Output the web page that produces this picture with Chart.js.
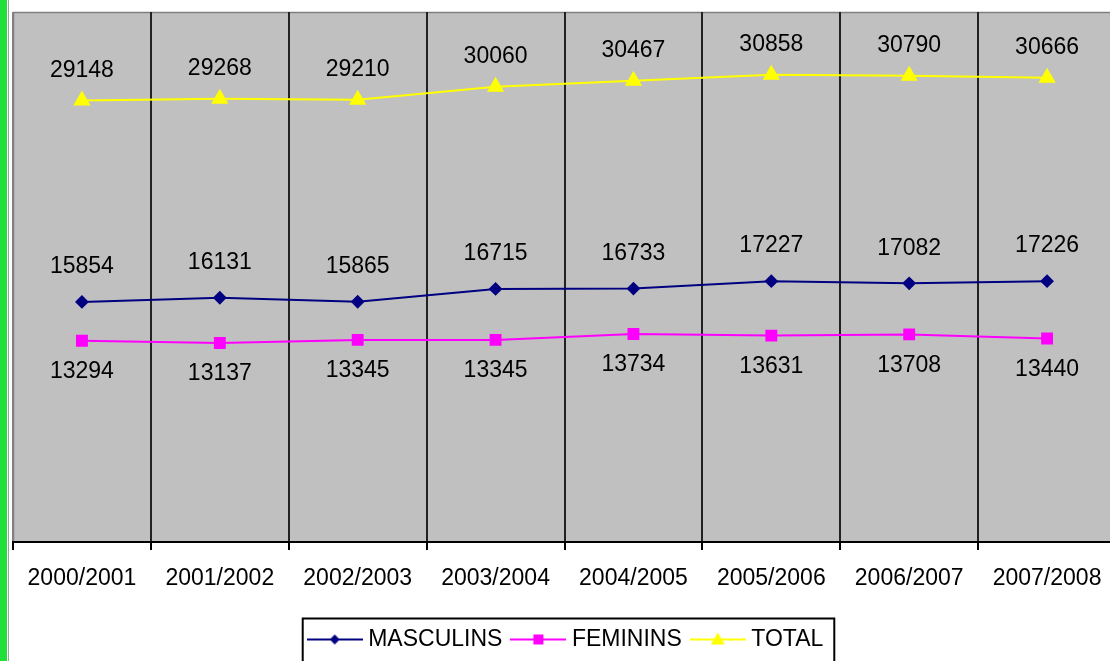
<!DOCTYPE html>
<html>
<head>
<meta charset="utf-8">
<script src="https://cdn.jsdelivr.net/npm/chart.js@4/dist/chart.umd.min.js"></script>
<style>
  html, body { margin: 0; padding: 0; background: #fff; overflow: hidden; }
  #wrap { position: relative; width: 1110px; height: 661px; overflow: hidden; }
  #chart { position: absolute; left: 0; top: 0; }
  #green { position: absolute; left: 0; top: 0; width: 7px; height: 661px; background: #22e03a; z-index: 2; }
  #edge { position: absolute; left: 8px; top: 0; width: 1px; height: 661px; background: #a0a0a0; z-index: 2; }
</style>
</head>
<body>
<div id="wrap">
  <div id="green"></div>
  <div id="edge"></div>
  <canvas id="chart" width="1126" height="661"></canvas>
</div>
<script>
const years = ["2000/2001", "2001/2002", "2002/2003", "2003/2004", "2004/2005", "2005/2006", "2006/2007", "2007/2008"];
const masculins = [15854, 16131, 15865, 16715, 16733, 17227, 17082, 17226];
const feminins = [13294, 13137, 13345, 13345, 13734, 13631, 13708, 13440];
const total = [29148, 29268, 29210, 30060, 30467, 30858, 30790, 30666];

const FONT = "'Liberation Sans', Arial, sans-serif";

// little line+marker images for the legend
function legendIcon(color, shape) {
    let c = document.createElement("canvas");
    c.width = 56;
    c.height = 20;
    let ctx = c.getContext("2d");
    ctx.strokeStyle = color;
    ctx.fillStyle = color;
    ctx.lineWidth = 2;
    ctx.beginPath();
    ctx.moveTo(0, 10);
    ctx.lineTo(56, 10);
    ctx.stroke();
    ctx.beginPath();
    if (shape === "diamond") {
        ctx.moveTo(28, 5); ctx.lineTo(33, 10); ctx.lineTo(28, 15); ctx.lineTo(23, 10);
    } else if (shape === "square") {
        ctx.rect(23, 5, 10, 10);
    } else {
        ctx.moveTo(28, 3); ctx.lineTo(35, 15); ctx.lineTo(21, 15);
    }
    ctx.closePath();
    ctx.fill();
    return c;
}

const plotBackground = {
    id: "plotBackground",
    beforeDraw(chart) {
        let a = chart.chartArea;
        let ctx = chart.ctx;
        ctx.save();
        ctx.fillStyle = "#c0c0c0";
        ctx.fillRect(a.left, a.top, a.right - a.left, a.bottom - a.top);
        ctx.strokeStyle = "#808080";
        ctx.lineWidth = 1.5;
        ctx.beginPath();
        ctx.moveTo(a.left + 0.5, a.bottom);
        ctx.lineTo(a.left + 0.5, a.top + 0.5);
        ctx.lineTo(a.right, a.top + 0.5);
        ctx.stroke();
        ctx.restore();
    }
};

const labelOffsets = [-35, 31, -30];

const valueLabels = {
    id: "valueLabels",
    afterDatasetsDraw(chart) {
        let ctx = chart.ctx;
        ctx.save();
        ctx.font = "23px " + FONT;
        ctx.fillStyle = "#000";
        ctx.textAlign = "center";
        ctx.textBaseline = "middle";
        chart.data.datasets.forEach((ds, i) => {
            let meta = chart.getDatasetMeta(i);
            meta.data.forEach((pt, j) => {
                ctx.fillText(String(ds.data[j]), pt.x, pt.y + labelOffsets[i]);
            });
        });
        ctx.restore();
    }
};

const legendBox = {
    id: "legendBox",
    afterDraw(chart) {
        let boxes = chart.legend.legendHitBoxes;
        if (!boxes || !boxes.length) return;
        let first = boxes[0];
        let last = boxes[boxes.length - 1];
        let ctx = chart.ctx;
        ctx.save();
        ctx.strokeStyle = "#000";
        ctx.lineWidth = 2;
        let cy = first.top + first.height / 2;
        ctx.strokeRect(first.left - 10, cy - 21, last.left + last.width + 21 - first.left, 60);
        ctx.restore();
    }
};

let chart = new Chart(document.getElementById("chart"), {
    type: "line",
    data: {
        labels: years,
        datasets: [{
            label: "MASCULINS",
            data: masculins,
            borderColor: "#000080",
            backgroundColor: "#000080",
            borderWidth: 2,
            pointStyle: "rectRot",
            pointRadius: 5.5
        }, {
            label: "FEMININS",
            data: feminins,
            borderColor: "#ff00ff",
            backgroundColor: "#ff00ff",
            borderWidth: 2,
            pointStyle: "rect",
            pointRadius: 7
        }, {
            label: "TOTAL",
            data: total,
            borderColor: "#ffff00",
            backgroundColor: "#ffff00",
            borderWidth: 2,
            pointStyle: "triangle",
            pointRadius: 8
        }]
    },
    options: {
        responsive: false,
        animation: false,
        layout: { padding: { left: 13, top: 12, right: 3, bottom: 0 } },
        scales: {
            x: {
                offset: true,
                grid: {
                    offset: true,
                    color: c => c.index === 0 ? "#808080" : "#222",
                    lineWidth: 2,
                    tickLength: 8,
                    tickColor: "#000"
                },
                border: { display: true, color: "#000", width: 2 },
                ticks: {
                    color: "#000",
                    font: { family: FONT, size: 23 },
                    padding: 15,
                    maxRotation: 0
                },
                afterFit: s => { s.height = 72; }
            },
            y: {
                display: false,
                min: 0,
                max: 35000
            }
        },
        plugins: {
            tooltip: { enabled: false },
            legend: {
                position: "bottom",
                labels: {
                    color: "#000",
                    font: { family: FONT, size: 23 },
                    usePointStyle: true,
                    pointStyleWidth: 44,
                    padding: 14,
                    generateLabels: ch => {
                        const shapes = ["diamond", "square", "triangle"];
                        return ch.data.datasets.map((ds, i) => ({
                            text: ds.label,
                            fontColor: "#000",
                            pointStyle: legendIcon(ds.borderColor, shapes[i]),
                            lineWidth: 0,
                            datasetIndex: i
                        }));
                    }
                }
            }
        }
    },
    plugins: [plotBackground, valueLabels, legendBox]
});
</script>
</body>
</html>
